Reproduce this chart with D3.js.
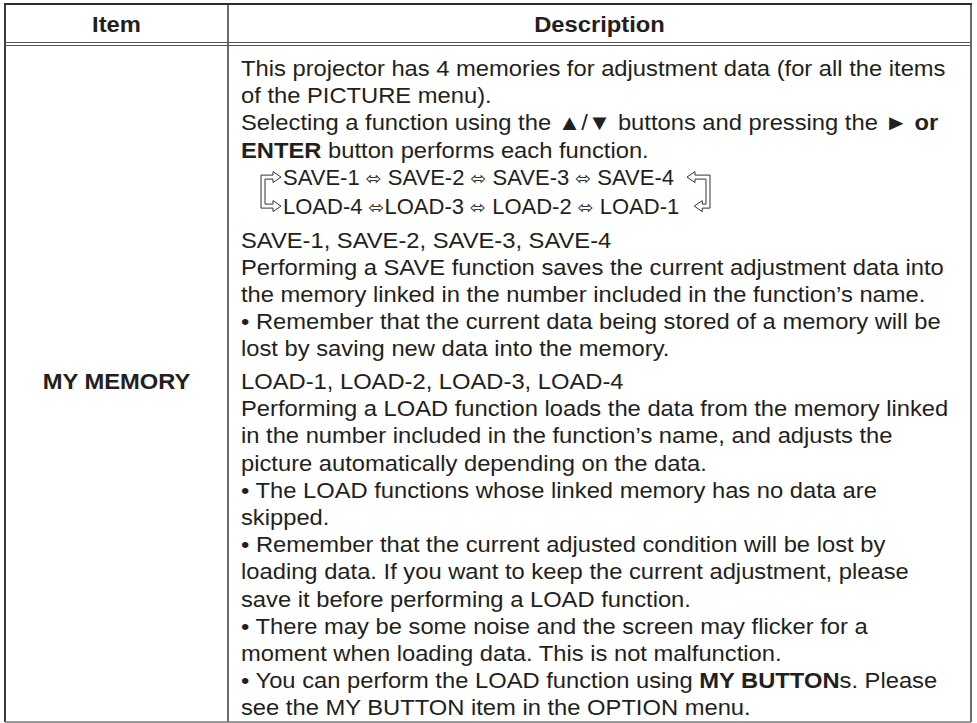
<!DOCTYPE html>
<html>
<head>
<meta charset="utf-8">
<script src="https://cdn.jsdelivr.net/npm/d3@7"></script>
<style>
  html, body { margin: 0; padding: 0; background: #fff; }
  svg { display: block; }
</style>
</head>
<body>
<svg id="chart" width="977" height="723"></svg>
<script>
// ---------- DATA ----------
const headers = ["Item", "Description"];
const itemName = "MY MEMORY";

// each line: list of [text, bold]
const introLines = [
  [["This projector has 4 memories for adjustment data (for all the items", 0]],
  [["of the PICTURE menu).", 0]],
  [["Selecting a function using the \u25B2/\u25BC buttons and pressing the ", 0], ["\u25BA or", 1]],
  [["ENTER", 1], [" button performs each function.", 0]]
];
const saveCycle = "SAVE-1 \u2B04 SAVE-2 \u2B04 SAVE-3 \u2B04 SAVE-4";
const loadCycle = "LOAD-4 \u2B04LOAD-3 \u2B04 LOAD-2 \u2B04 LOAD-1";

const saveLines = [
  [["SAVE-1, SAVE-2, SAVE-3, SAVE-4", 0]],
  [["Performing a SAVE function saves the current adjustment data into", 0]],
  [["the memory linked in the number included in the function\u2019s name.", 0]],
  [["\u2022 Remember that the current data being stored of a memory will be", 0]],
  [["lost by saving new data into the memory.", 0]]
];
const loadLines = [
  [["LOAD-1, LOAD-2, LOAD-3, LOAD-4", 0]],
  [["Performing a LOAD function loads the data from the memory linked", 0]],
  [["in the number included in the function\u2019s name, and adjusts the", 0]],
  [["picture automatically depending on the data.", 0]],
  [["\u2022 The LOAD functions whose linked memory has no data are", 0]],
  [["skipped.", 0]],
  [["\u2022 Remember that the current adjusted condition will be lost by", 0]],
  [["loading data. If you want to keep the current adjustment, please", 0]],
  [["save it before performing a LOAD function.", 0]],
  [["\u2022 There may be some noise and the screen may flicker for a", 0]],
  [["moment when loading data. This is not malfunction.", 0]],
  [["\u2022 You can perform the LOAD function using ", 0], ["MY BUTTON", 1], ["s. Please", 0]],
  [["see the MY BUTTON item in the OPTION menu.", 0]]
];

// ---------- LAYOUT ----------
const tblLeft = 5, tblRight = 971, tblTop = 4, tblBottom = 722, colX = 228;
const headBottom = 44;
const fontFamily = "'Liberation Sans', Arial, Helvetica, sans-serif";
const fs = 22, sx = 1.08, sxCycle = 1.0;
const textColor = "#231f20";
const lineStep = 27.2;
const textX = 241;

const svg = d3.select("#chart");

const colScale = d3.scaleOrdinal().domain(headers).range([[tblLeft, colX], [colX, tblRight]]);

function drawLine(g, x, y, segs, anchor) {
  const t = g.append("text")
    .attr("transform", `translate(${x},${y}) scale(${sx},1)`)
    .attr("font-family", fontFamily)
    .attr("font-size", fs)
    .attr("fill", textColor)
    .attr("text-anchor", anchor || "start");
  segs.forEach(([s, b]) => {
    t.append("tspan").attr("font-weight", b ? "bold" : "normal").text(s);
  });
  return t;
}

headers.forEach(h => {
  const [a, b] = colScale(h);
  drawLine(svg, (a + b) / 2, 32, [[h, 1]], "middle");
});

drawLine(svg, (tblLeft + colX) / 2, 389, [[itemName, 1]], "middle");

let y = 76;
introLines.forEach(l => { drawLine(svg, textX, y, l); y += lineStep; });
y -= lineStep;

const cycleX = 283;
const ySave = y + 27, yLoad = ySave + 29;
function drawCycle(str, yy) {
  const t = svg.append("text")
    .attr("transform", `translate(${cycleX},${yy}) scale(${sxCycle},1)`)
    .attr("font-family", fontFamily)
    .attr("font-size", fs)
    .attr("fill", textColor);
  const parts = str.split("\u2B04");
  parts.forEach((p, i) => {
    t.append("tspan").text(p);
    if (i < parts.length - 1) {
      t.append("tspan").attr("font-family", "'DejaVu Sans'").attr("font-size", 19)
        .attr("fill", "#333").text("\u2B04");
    }
  });
  return t;
}
const tSave = drawCycle(saveCycle, ySave);
const tLoad = drawCycle(loadCycle, yLoad);

const ink = "#333";
const midS = ySave - 7.5, midL = yLoad - 7.5;
function bracket(xOuter, xTipTop, xTipBot, dir) {
  const th = 4, hh = 5.5, hl = 8;
  const xi = xOuter + dir * th;
  const p = d3.path();
  p.moveTo(xOuter, midS - th / 2);
  p.lineTo(xTipTop - dir * hl, midS - th / 2);
  p.lineTo(xTipTop - dir * hl, midS - hh);
  p.lineTo(xTipTop, midS);
  p.lineTo(xTipTop - dir * hl, midS + hh);
  p.lineTo(xTipTop - dir * hl, midS + th / 2);
  p.lineTo(xi, midS + th / 2);
  p.lineTo(xi, midL - th / 2);
  p.lineTo(xTipBot - dir * hl, midL - th / 2);
  p.lineTo(xTipBot - dir * hl, midL - hh);
  p.lineTo(xTipBot, midL);
  p.lineTo(xTipBot - dir * hl, midL + hh);
  p.lineTo(xTipBot - dir * hl, midL + th / 2);
  p.lineTo(xOuter, midL + th / 2);
  p.closePath();
  svg.append("path").attr("d", p.toString()).attr("fill", "none")
    .attr("stroke", ink).attr("stroke-width", 1);
}
bracket(261, 281, 281, 1);
const bs = tSave.node().getBBox(), bl = tLoad.node().getBBox();
const endS = cycleX + (bs.x + bs.width) * sxCycle, endL = cycleX + (bl.x + bl.width) * sxCycle;
const rOuter = endS + 36;
bracket(rOuter, endS + 13, endL + 15, -1);

y = yLoad + 34;
saveLines.forEach(l => { drawLine(svg, textX, y, l); y += lineStep; });
y = y - lineStep + 32.6;
loadLines.forEach(l => { drawLine(svg, textX, y, l); y += lineStep; });

const grid = svg.append("g").attr("fill", "none");
grid.append("line").attr("x1", tblLeft - 1).attr("x2", tblRight + 1).attr("y1", tblTop).attr("y2", tblTop)
  .attr("stroke", "#2b2b2b").attr("stroke-width", 2);
grid.append("line").attr("x1", tblLeft).attr("x2", tblLeft).attr("y1", tblTop).attr("y2", tblBottom)
  .attr("stroke", "#3a3a3a").attr("stroke-width", 2);
grid.append("line").attr("x1", tblRight).attr("x2", tblRight).attr("y1", tblTop).attr("y2", tblBottom)
  .attr("stroke", "#3a3a3a").attr("stroke-width", 1.5);
grid.append("line").attr("x1", colX).attr("x2", colX).attr("y1", tblTop).attr("y2", tblBottom)
  .attr("stroke", "#3a3a3a").attr("stroke-width", 1.5);
grid.append("line").attr("x1", tblLeft).attr("x2", tblRight).attr("y1", tblBottom).attr("y2", tblBottom)
  .attr("stroke", "#777").attr("stroke-width", 1.5);
[headBottom - 1.5, headBottom + 1.5].forEach(yy => {
  grid.append("line").attr("x1", tblLeft).attr("x2", tblRight).attr("y1", yy).attr("y2", yy)
    .attr("stroke", "#555").attr("stroke-width", 1);
});
</script>
</body>
</html>
